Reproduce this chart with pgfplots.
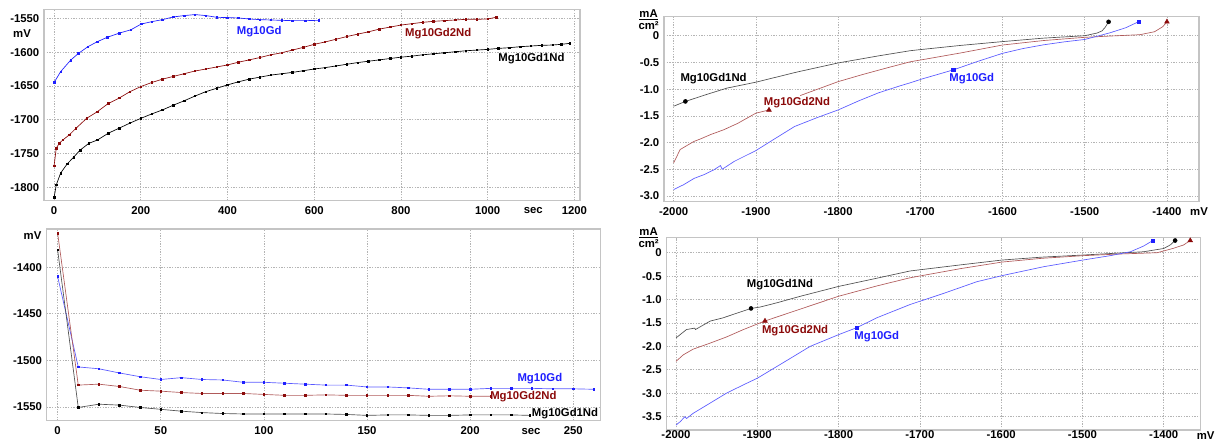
\documentclass[border=0pt]{standalone}
\usepackage{fontspec}
\setmainfont{Liberation Sans}
\usepackage{pgfplots}
\pgfplotsset{compat=1.18}

\definecolor{cblue}{HTML}{1F1FFF}
\definecolor{cred}{HTML}{8B0A0A}
\definecolor{credl}{HTML}{B05A5A}
\definecolor{cbluel}{HTML}{5A5AFF}
\definecolor{cgrayl}{HTML}{505050}
\definecolor{cgrid}{HTML}{B4B4B4}
\definecolor{cframe}{HTML}{C4C4C4}

\pgfplotsset{
  panel/.style={
    scale only axis, anchor=north west, clip=false,
    axis line style={draw=cframe, line width=0.8pt},
    major tick length=0pt,
    xmajorgrids, ymajorgrids,
    major grid style={cgrid, dash pattern=on 1pt off 1pt, line width=0.5pt},
    tick label style={font=\fontsize{8.5}{10}\selectfont\bfseries},
    xticklabel style={yshift=-1pt},
    /pgf/number format/assume math mode=true,
    /pgf/number format/1000 sep={},
    scaled ticks=false,
  },
  dots/.style={line width=0.5pt, mark=square*, mark size=0.55pt},
  thin/.style={line width=0.5pt},
}
\tikzset{lab/.style={font=\fontsize{8.5}{10}\selectfont\bfseries, inner sep=1pt},
  unit/.style={font=\fontsize{8.5}{9}\selectfont\bfseries, inner sep=0pt, align=center}}

\begin{document}
\begin{tikzpicture}
\path[use as bounding box] (0,0) rectangle (912pt,-330.75pt);

% top left: potential vs time
\begin{axis}[panel, at={(33pt,-6.98pt)}, width=402pt, height=143.55pt,
  xmin=-23.3, xmax=1213, ymin=-1819.8, ymax=-1536.7,
  xtick={0,200,400,600,800,1000,1200}, ytick={-1800,-1750,-1700,-1650,-1600,-1550}]
\addplot[dots, color=cblue, mark options={fill=cblue}] coordinates {
(0,-1645)(15,-1629)(38,-1612)(56,-1602)(78,-1592)(100,-1584.5)(123,-1578)(150,-1572)
(177,-1567)(201,-1558.5)(225,-1555)(250,-1552)(275,-1548)(300,-1546)(325,-1544.5)
(350,-1546)(375,-1548.5)(400,-1549)(425,-1549.5)(450,-1551)(475,-1552)(500,-1552.5)
(525,-1553)(550,-1553.5)(580,-1553.5)(610,-1553)};
\addplot[dots, color=cred, mark options={fill=cred}] coordinates {
(0,-1768)(5,-1742)(12,-1735)(20,-1730)(35,-1722.5)(50,-1713)(75,-1698)(100,-1688)
(125,-1676)(150,-1668)(175,-1658.5)(200,-1651)(225,-1645)(250,-1640)(275,-1636)
(300,-1632)(325,-1628)(350,-1625)(375,-1622)(400,-1619)(425,-1615)(450,-1611.5)
(475,-1608)(500,-1604)(525,-1601)(550,-1597)(575,-1593)(600,-1588.5)(625,-1585)
(650,-1581)(675,-1577)(700,-1573.5)(725,-1570)(750,-1566)(775,-1563)(800,-1560)
(825,-1558)(850,-1556)(875,-1554.5)(900,-1553.5)(925,-1552.5)(950,-1551.5)
(975,-1551.5)(1000,-1551)(1020,-1548.5)};
\addplot[dots, color=black, mark options={fill=black}] coordinates {
(0,-1815)(5,-1796.5)(15,-1779)(30,-1765.5)(45,-1755.5)(60,-1745)(80,-1735)(100,-1730)
(125,-1720)(150,-1712.5)(175,-1705)(200,-1698)(225,-1691.5)(250,-1685.5)(275,-1678.5)
(300,-1672)(325,-1665)(350,-1658.5)(375,-1653.5)(400,-1648.5)(425,-1644)(450,-1640)
(475,-1637)(500,-1634)(525,-1632)(550,-1630)(575,-1627.5)(600,-1625)(625,-1623)
(650,-1620.5)(675,-1618)(700,-1615.5)(725,-1613.5)(750,-1611.5)(775,-1609.5)
(800,-1607.5)(825,-1606)(850,-1604)(875,-1602.5)(900,-1601)(925,-1599.5)(950,-1598)
(975,-1597)(1000,-1596)(1025,-1594.5)(1050,-1593.5)(1075,-1592)(1100,-1591)
(1125,-1590)(1150,-1589.5)(1170,-1588.5)(1190,-1587)};
\node[lab, text=cblue] at (axis cs:473,-1570) {Mg10Gd};
\node[lab, text=cred] at (axis cs:886,-1572) {Mg10Gd2Nd};
\node[lab, text=black] at (axis cs:1101,-1609) {Mg10Gd1Nd};
\end{axis}

% top right: polarisation curves
\begin{axis}[panel, at={(498pt,-12.53pt)}, width=401.25pt, height=138.75pt,
  xmin=-2011.7, xmax=-1361, ymin=-3.107, ymax=0.356,
  xtick={-2000,-1900,-1800,-1700,-1600,-1500,-1400},
  ytick={-3,-2.5,-2,-1.5,-1,-0.5,0},
  yticklabels={-3.0,-2.5,-2.0,-1.5,-1.0,-0.5,0}]
\addplot[thin, color=cgrayl] coordinates {
(-2000,-1.32)(-1985.7,-1.23)(-1960,-1.1)(-1935,-0.98)(-1900,-0.87)(-1850,-0.68)
(-1800,-0.51)(-1750,-0.375)(-1712,-0.28)(-1700,-0.26)(-1650,-0.18)(-1600,-0.11)
(-1550,-0.045)(-1500,0)(-1485,0.05)(-1479,0.09)(-1475,0.16)(-1471,0.26)};
\addplot[thin, color=credl] coordinates {
(-2000,-2.38)(-1992,-2.13)(-1975.5,-1.98)(-1967,-1.93)(-1955,-1.85)(-1939,-1.76)
(-1922,-1.64)(-1900,-1.45)(-1884,-1.39)};
\addplot[thin, color=credl] coordinates {
(-1846,-1.12)(-1800,-0.86)(-1771,-0.73)(-1740,-0.6)(-1712,-0.487)(-1698,-0.45)
(-1650,-0.32)(-1600,-0.174)(-1550,-0.09)(-1500,-0.03)(-1469,-0.006)(-1433,0.019)
(-1415,0.075)(-1405,0.17)(-1400,0.26)};
\addplot[thin, color=cbluel] coordinates {
(-2000,-2.88)(-1988,-2.79)(-1975,-2.67)(-1963,-2.6)(-1951,-2.51)(-1943,-2.43)
(-1941,-2.5)(-1926,-2.35)(-1900,-2.15)(-1875,-1.91)(-1853,-1.7)(-1825,-1.53)
(-1800,-1.39)(-1775,-1.22)(-1751,-1.07)(-1725,-0.94)(-1712,-0.88)(-1698,-0.81)
(-1680,-0.73)(-1660,-0.64)(-1630,-0.48)(-1600,-0.33)(-1575,-0.24)(-1550,-0.17)
(-1525,-0.115)(-1500,-0.07)(-1485,-0.01)(-1469,0.056)(-1450,0.15)(-1434.5,0.262)};
\addplot[only marks, mark=*, mark size=1.5pt, color=black] coordinates {(-1985.7,-1.23)(-1471,0.26)};
\addplot[only marks, mark=triangle*, mark size=2pt, color=cred] coordinates {(-1884,-1.39)(-1400,0.26)};
\addplot[only marks, mark=square*, mark size=1.2pt, color=cblue] coordinates {(-1660,-0.64)(-1434.5,0.262)};
\node[lab, text=black] at (axis cs:-1951.4,-0.81) {Mg10Gd1Nd};
\node[lab, text=cred] at (axis cs:-1850,-1.255) {Mg10Gd2Nd};
\node[lab, text=cblue] at (axis cs:-1637.4,-0.8) {Mg10Gd};
\end{axis}

% bottom left: potential vs time, first seconds
\begin{axis}[panel, at={(35.03pt,-171.75pt)}, width=415.5pt, height=143.63pt,
  xmin=-5.3, xmax=263.3, ymin=-1564.5, ymax=-1359,
  xtick={0,50,100,150,200,250}, ytick={-1550,-1500,-1450,-1400}]
\addplot[dots, color=cbluel, mark options={fill=cblue, draw=cblue}] coordinates {
(0,-1410)(10,-1507)(20,-1509)(30,-1513.5)(40,-1517.5)(50,-1520.5)(60,-1518.5)
(70,-1520.5)(80,-1521)(90,-1523.5)(100,-1523.5)(110,-1524.5)(120,-1525.5)(130,-1526.5)
(140,-1526.5)(150,-1528.5)(160,-1528.5)(170,-1529.5)(180,-1531)(190,-1531)(200,-1531)
(210,-1530)(220,-1530)(230,-1530)(240,-1530.5)(250,-1530.5)(260,-1531)};
\addplot[dots, color=credl, mark options={fill=cred, draw=cred}] coordinates {
(0,-1363.5)(10,-1526.5)(20,-1525.5)(30,-1528)(40,-1532)(50,-1533)(60,-1534.5)
(70,-1535.5)(80,-1535.5)(90,-1535.5)(100,-1536.5)(110,-1537.5)(120,-1537.5)(130,-1537)
(140,-1537.5)(150,-1537.5)(160,-1537.5)(170,-1537.5)(180,-1538.5)(190,-1538)
(200,-1538.5)(210,-1538.5)};
\addplot[dots, color=cgrayl, mark options={fill=black, draw=black}] coordinates {
(0,-1381.5)(10,-1550.5)(20,-1547)(30,-1548)(40,-1550.5)(50,-1552.5)(60,-1554.5)
(70,-1556)(80,-1557)(90,-1557.5)(100,-1557.5)(110,-1557.5)(120,-1557.5)(130,-1557.5)
(140,-1558)(150,-1559)(160,-1558.5)(170,-1558.5)(180,-1559)(190,-1559)(200,-1558.5)
(210,-1558.5)(220,-1558.5)(229,-1559)};
\node[lab, text=cblue] at (axis cs:233.8,-1519.3) {Mg10Gd};
\node[lab, text=cred] at (axis cs:225.8,-1539) {Mg10Gd2Nd};
\node[lab, text=black] at (axis cs:246,-1556.8) {Mg10Gd1Nd};
\end{axis}

% bottom right: polarisation curves
\begin{axis}[panel, at={(499.73pt,-178.28pt)}, width=400.8pt, height=144.23pt,
  xmin=-2011.9, xmax=-1354.5, ymin=-3.785, ymax=0.32,
  xticklabel style={yshift=4pt},
  xtick={-2000,-1900,-1800,-1700,-1600,-1500,-1400},
  ytick={-3.5,-3,-2.5,-2,-1.5,-1,-0.5,0},
  yticklabels={-3.5,-3.0,-2.5,-2.0,-1.5,-1.0,-0.5,0}]
\addplot[thin, color=cgrayl] coordinates {
(-2000,-1.82)(-1987,-1.64)(-1977,-1.61)(-1976,-1.64)(-1958,-1.46)(-1942,-1.39)
(-1925,-1.29)(-1907.7,-1.19)(-1896.5,-1.16)(-1876,-1.07)(-1847,-0.93)(-1800,-0.72)
(-1753,-0.545)(-1712,-0.39)(-1650,-0.26)(-1599,-0.157)(-1550,-0.095)(-1499.5,-0.05)
(-1457.6,-0.01)(-1424.8,0.02)(-1400,0.09)(-1392,0.165)(-1386,0.26)};
\addplot[thin, color=credl] coordinates {
(-2000,-2.32)(-1991,-2.18)(-1979,-2.06)(-1958,-1.93)(-1938,-1.8)(-1917,-1.64)
(-1890.5,-1.457)(-1855,-1.25)(-1800,-0.93)(-1753,-0.71)(-1712,-0.535)(-1650,-0.34)
(-1599,-0.2)(-1550,-0.12)(-1499.5,-0.064)(-1457.6,-0.03)(-1408,0)(-1388,0.094)
(-1375.6,0.165)(-1367.4,0.26)};
\addplot[thin, color=cbluel] coordinates {
(-2000,-3.68)(-1995,-3.61)(-1989,-3.5)(-1987,-3.54)(-1979,-3.43)(-1958,-3.21)
(-1938,-3.0)(-1917,-2.82)(-1900,-2.68)(-1876,-2.43)(-1855,-2.21)(-1835,-2.0)
(-1800,-1.75)(-1777.6,-1.6)(-1753,-1.39)(-1712,-1.106)(-1671,-0.87)(-1630,-0.62)
(-1599,-0.49)(-1548,-0.3)(-1499.5,-0.157)(-1466,-0.064)(-1441,0.02)(-1425,0.14)
(-1413.3,0.26)};
\addplot[only marks, mark=*, mark size=1.5pt, color=black] coordinates {(-1907.7,-1.19)(-1386,0.26)};
\addplot[only marks, mark=triangle*, mark size=2pt, color=cred] coordinates {(-1890.5,-1.457)(-1367.4,0.26)};
\addplot[only marks, mark=square*, mark size=1.2pt, color=cblue] coordinates {(-1777.6,-1.6)(-1413.3,0.26)};
\node[lab, text=black] at (axis cs:-1872,-0.69) {Mg10Gd1Nd};
\node[lab, text=cred] at (axis cs:-1853.5,-1.67) {Mg10Gd2Nd};
\node[lab, text=cblue] at (axis cs:-1753,-1.785) {Mg10Gd};
\end{axis}

% unit labels
\node[unit] at (16.5pt,-25pt) {mV};
\node[unit] at (400pt,-158pt) {sec};
\node[unit] at (486.45pt,-14.6pt) {\underline{mA}\\cm²};
\node[unit] at (899.25pt,-158.8pt) {mV};
\node[unit] at (24.4pt,-176.8pt) {mV};
\node[unit] at (398.25pt,-323.8pt) {sec};
\node[unit] at (486.45pt,-177.9pt) {\underline{mA}\\cm²};
\node[unit, anchor=south east] at (911pt,-330pt) {mV};
\end{tikzpicture}
\end{document}
